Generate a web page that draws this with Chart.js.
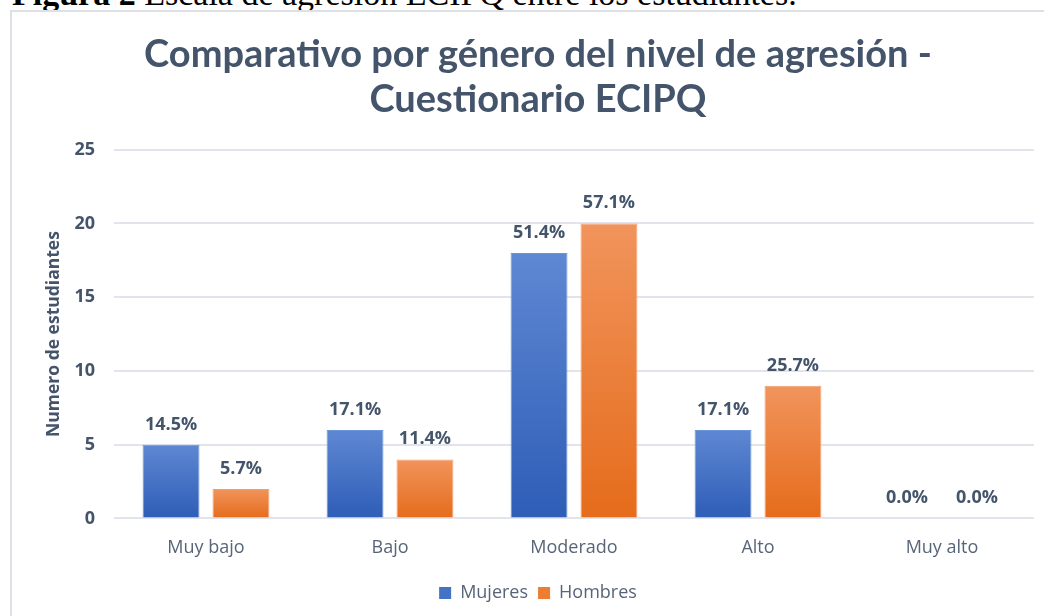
<!DOCTYPE html>
<html lang="es">
<head>
  <meta charset="UTF-8">
  <title>Comparativo por género del nivel de agresión</title>
  <script src="https://cdn.jsdelivr.net/npm/chart.js"></script>
  <style>
    body { margin: 0; background: #fff; width: 1044px; height: 616px; overflow: hidden; position: relative; }
    .caption { position: absolute; left: 12px; top: -23px; font: 34px/34px "Liberation Serif", "Times New Roman", serif; color: #000; white-space: nowrap; }
    .frame { position: absolute; left: 10px; top: 10px; width: 1100px; height: 700px; border-left: 2px solid #dde1e7; border-top: 2px solid #dde1e7; background: #fff; }
    #chart { position: absolute; left: 12px; top: 12px; }
  </style>
</head>
<body>
  <div class="caption"><b>Figura 2</b> Escala de agresión ECIPQ entre los estudiantes.</div>
  <div class="frame"></div>
  <canvas id="chart" width="1032" height="604"></canvas>

  <script>
    // data
    const categories = ['Muy bajo', 'Bajo', 'Moderado', 'Alto', 'Muy alto'];
    const mujeres = [5, 6, 18, 6, 0];
    const hombres = [2, 4, 20, 9, 0];
    const mujeresLabels = ['14.5%', '17.1%', '51.4%', '17.1%', '0.0%'];
    const hombresLabels = ['5.7%', '11.4%', '57.1%', '25.7%', '0.0%'];
    const yTicks = [0, 5, 10, 15, 20, 25];

    const textDark = '#44546a';
    const textMid = '#586579';

    // vertical gradient per bar, lighter at the top like the Excel fill
    function barGradient(c, top, bottom) {
      const chart = c.chart;
      if (!chart.chartArea || c.type !== 'data') return bottom;
      const y = chart.scales.y;
      const y0 = y.getPixelForValue(c.parsed.y);
      const y1 = y.getPixelForValue(0);
      if (Math.abs(y1 - y0) < 1) return bottom;
      const g = chart.ctx.createLinearGradient(0, y0, 0, y1);
      g.addColorStop(0, top);
      g.addColorStop(1, bottom);
      return g;
    }

    // percentage labels above the bars
    const barLabels = {
      id: 'barLabels',
      afterDatasetsDraw(chart) {
        const ctx = chart.ctx;
        ctx.save();
        ctx.font = 'bold 18px "Open Sans", sans-serif';
        ctx.fillStyle = textDark;
        ctx.textAlign = 'center';
        ctx.textBaseline = 'alphabetic';
        chart.data.datasets.forEach((ds, i) => {
          chart.getDatasetMeta(i).data.forEach((bar, j) => {
            ctx.fillText(ds.pctLabels[j], bar.x, bar.y - 15);
          });
        });
        ctx.restore();
      }
    };

    new Chart(document.getElementById('chart'), {
      type: 'bar',
      data: {
        labels: categories,
        datasets: [{
          label: 'Mujeres',
          data: mujeres,
          pctLabels: mujeresLabels,
          backgroundColor: c => barGradient(c, '#5f88d3', '#2e5db7'),
          borderColor: '#6c94d8',
          borderWidth: 1,
          categoryPercentage: 0.76,
          barPercentage: 0.814
        }, {
          label: 'Hombres',
          data: hombres,
          pctLabels: hombresLabels,
          backgroundColor: c => barGradient(c, '#f1945c', '#e56c1b'),
          borderColor: '#f3a06e',
          borderWidth: 1,
          categoryPercentage: 0.76,
          barPercentage: 0.814
        }]
      },
      options: {
        responsive: false,
        animation: false,
        layout: { padding: { left: 30, right: 10, top: 0, bottom: 4 } },
        plugins: {
          title: {
            display: true,
            text: ['Comparativo por género del nivel de agresión -', 'Cuestionario ECIPQ'],
            color: textDark,
            font: { family: 'Lato, "Open Sans", sans-serif', size: 38, weight: 'bold', lineHeight: 1.18 },
            padding: { top: 20, bottom: 28 }
          },
          legend: {
            position: 'bottom',
            labels: {
              color: textMid,
              font: { family: '"Open Sans", sans-serif', size: 18 },
              boxWidth: 12,
              boxHeight: 12,
              padding: 10,
              generateLabels: chart => chart.data.datasets.map((ds, i) => ({
                text: ds.label,
                fillStyle: i === 0 ? '#4472c4' : '#ed7d31',
                strokeStyle: i === 0 ? '#4472c4' : '#ed7d31',
                lineWidth: 0,
                fontColor: textMid,
                datasetIndex: i
              }))
            }
          },
          tooltip: { enabled: false }
        },
        scales: {
          x: {
            grid: { display: false },
            border: { display: false },
            ticks: {
              color: textMid,
              font: { family: '"Open Sans", sans-serif', size: 18 },
              padding: 11
            },
            afterFit: s => { s.height += 4; }
          },
          y: {
            min: 0,
            max: 25,
            afterBuildTicks: s => { s.ticks = yTicks.map(v => ({ value: v })); },
            afterFit: s => { s.width = 72; },
            grid: { color: '#e1e4ea', lineWidth: 2, drawTicks: false },
            border: { display: false },
            ticks: {
              color: textDark,
              font: { family: '"Open Sans", sans-serif', size: 18, weight: 'bold' },
              padding: 19
            },
            title: {
              display: true,
              text: 'Numero de estudiantes',
              color: textDark,
              font: { family: '"Open Sans", sans-serif', size: 17.5, weight: 'bold' },
              padding: { top: 2, bottom: 4 }
            }
          }
        }
      },
      plugins: [barLabels]
    });
  </script>
</body>
</html>
